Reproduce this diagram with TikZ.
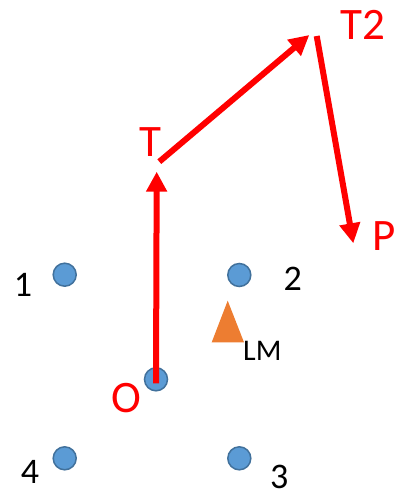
\documentclass[tikz,border=0pt]{standalone}
\usepackage{fontspec}
\setmainfont{Carlito}
\usetikzlibrary{arrows.meta}
\definecolor{dotblue}{HTML}{5B9BD5}
\definecolor{dotedge}{HTML}{41719C}
\definecolor{lmorange}{HTML}{ED7D31}
\tikzset{%
  mydot/.style={circle, fill=dotblue, draw=dotedge, line width=1.5pt, minimum size=23pt, inner sep=0pt},
  mylabel/.style={inner sep=0pt, font=\fontsize{36}{36}\selectfont},
  myredlabel/.style={inner sep=0pt, text=red, font=\fontsize{45}{45}\selectfont},
  myedge/.style={-{Triangle[length=20pt,width=20pt]}, red, line width=6pt}
}

\begin{document}
\begin{tikzpicture}[x=1pt, y=-1pt]
  \useasboundingbox (0,0) rectangle (396,497);
  % corner points and their numbers
  \node[mydot] (d1) at (64.7,274.7) {};
  \node[mydot] (d2) at (239.3,275) {};
  \node[mydot] (d3) at (239.3,458.3) {};
  \node[mydot] (d4) at (64.7,458.3) {};
  \node[mylabel] (l1) at (23,285) {1};
  \node[mylabel] (l2) at (292.7,279) {2};
  \node[mylabel] (l3) at (279.3,476.7) {3};
  \node[mylabel] (l4) at (30,471.7) {4};
  % landmark
  \fill[lmorange] (227.7,300.7) -- (244,342.3) -- (211.7,342.3) -- cycle;
  \node[inner sep=0pt, font=\fontsize{30}{30}\selectfont] (lm) at (262.3,350.7) {LM};
  % origin and the path O -> T -> T2 -> P
  \node[mydot] (o) at (156,379.3) {};
  \node[myredlabel] (lo) at (126,398.3) {O};
  \coordinate (tTip) at (156.7,171.7);
  \coordinate (tEnd) at (159.3,161.7);
  \coordinate (t2Tip) at (309.3,35);
  \coordinate (t2End) at (316.7,36);
  \coordinate (pTip) at (353.3,243.3);
  \draw[myedge] ([yshift=-4pt]o.center) -- (tTip);
  \draw[myedge] (tEnd) -- (t2Tip);
  \draw[myedge] (t2End) -- (pTip);
  \node[myredlabel] (lt) at (150.7,141.7) {T};
  \node[myredlabel] (lt2) at (363.3,25) {T2};
  \node[myredlabel] (lp) at (384.2,236) {P};
\end{tikzpicture}
\end{document}
